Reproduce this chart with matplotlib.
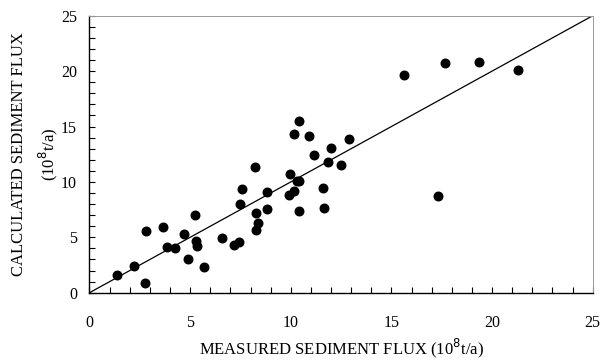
import numpy as np
import matplotlib
matplotlib.use("Agg")
import matplotlib.pyplot as plt

# measured vs calculated sediment flux (10^8 t/a)
measured = [1.37, 2.19, 2.75, 2.80, 3.63, 3.87, 4.24, 4.69, 4.88, 5.26,
            5.31, 5.33, 5.68, 6.59, 7.19, 7.43, 7.48, 7.60, 8.21, 8.28,
            8.39, 8.26, 8.84, 8.84, 9.93, 9.98, 10.18, 10.15, 10.30, 10.41,
            10.40, 10.40, 10.88, 11.16, 11.59, 11.67, 11.87, 11.99, 12.48, 12.90,
            15.60, 17.32, 17.65, 19.37, 21.27]
calculated = [1.62, 2.44, 0.87, 5.60, 5.90, 4.12, 4.00, 5.32, 3.01, 6.98,
              4.66, 4.24, 2.32, 4.93, 4.27, 4.57, 8.00, 9.36, 11.37, 7.22,
              6.32, 5.66, 9.06, 7.58, 8.84, 10.74, 9.21, 14.29, 10.05, 10.05,
              15.49, 7.40, 14.17, 12.45, 9.42, 7.61, 11.79, 13.06, 11.52, 13.84,
              19.67, 8.72, 20.73, 20.82, 20.10]
line_x = [0, 25]
line_y = [0, 25]

plt.rcParams['font.family'] = ['Liberation Serif', 'DejaVu Serif']

fig = plt.figure(figsize=(6.1, 3.62), dpi=100)
ax = fig.add_axes([0.1467, 0.1914, 0.8250, 0.7652])

ax.plot(line_x, line_y, color="black", lw=0.9)
ax.scatter(measured, calculated, s=38, c="black", zorder=3)

ax.set_xlim(0, 25)
ax.set_ylim(0, 25)
ax.set_xticks(np.arange(0, 26, 5))
ax.set_yticks(np.arange(0, 26, 5))
ax.set_xticks(np.arange(0, 26, 1), minor=True)
ax.set_yticks(np.arange(0, 26, 1), minor=True)
ax.tick_params(which="both", direction="in", length=4, width=0.8, labelsize=11.5)
ax.tick_params(axis="x", which="major", pad=16)
ax.tick_params(axis="y", which="major", pad=9)

for side in ["top", "right"]:
    ax.spines[side].set_color("#999999")
    ax.spines[side].set_linewidth(0.7)
for side in ["left", "bottom"]:
    ax.spines[side].set_linewidth(1.0)

ax.set_xlabel("MEASURED SEDIMENT FLUX (10$^8$t/a)", fontsize=12, labelpad=4)
ax.set_ylabel("CALCULATED SEDIMENT FLUX\n(10$^8$t/a)", fontsize=12,
              labelpad=1, linespacing=1.5)

fig.savefig("out.png", dpi=100)
